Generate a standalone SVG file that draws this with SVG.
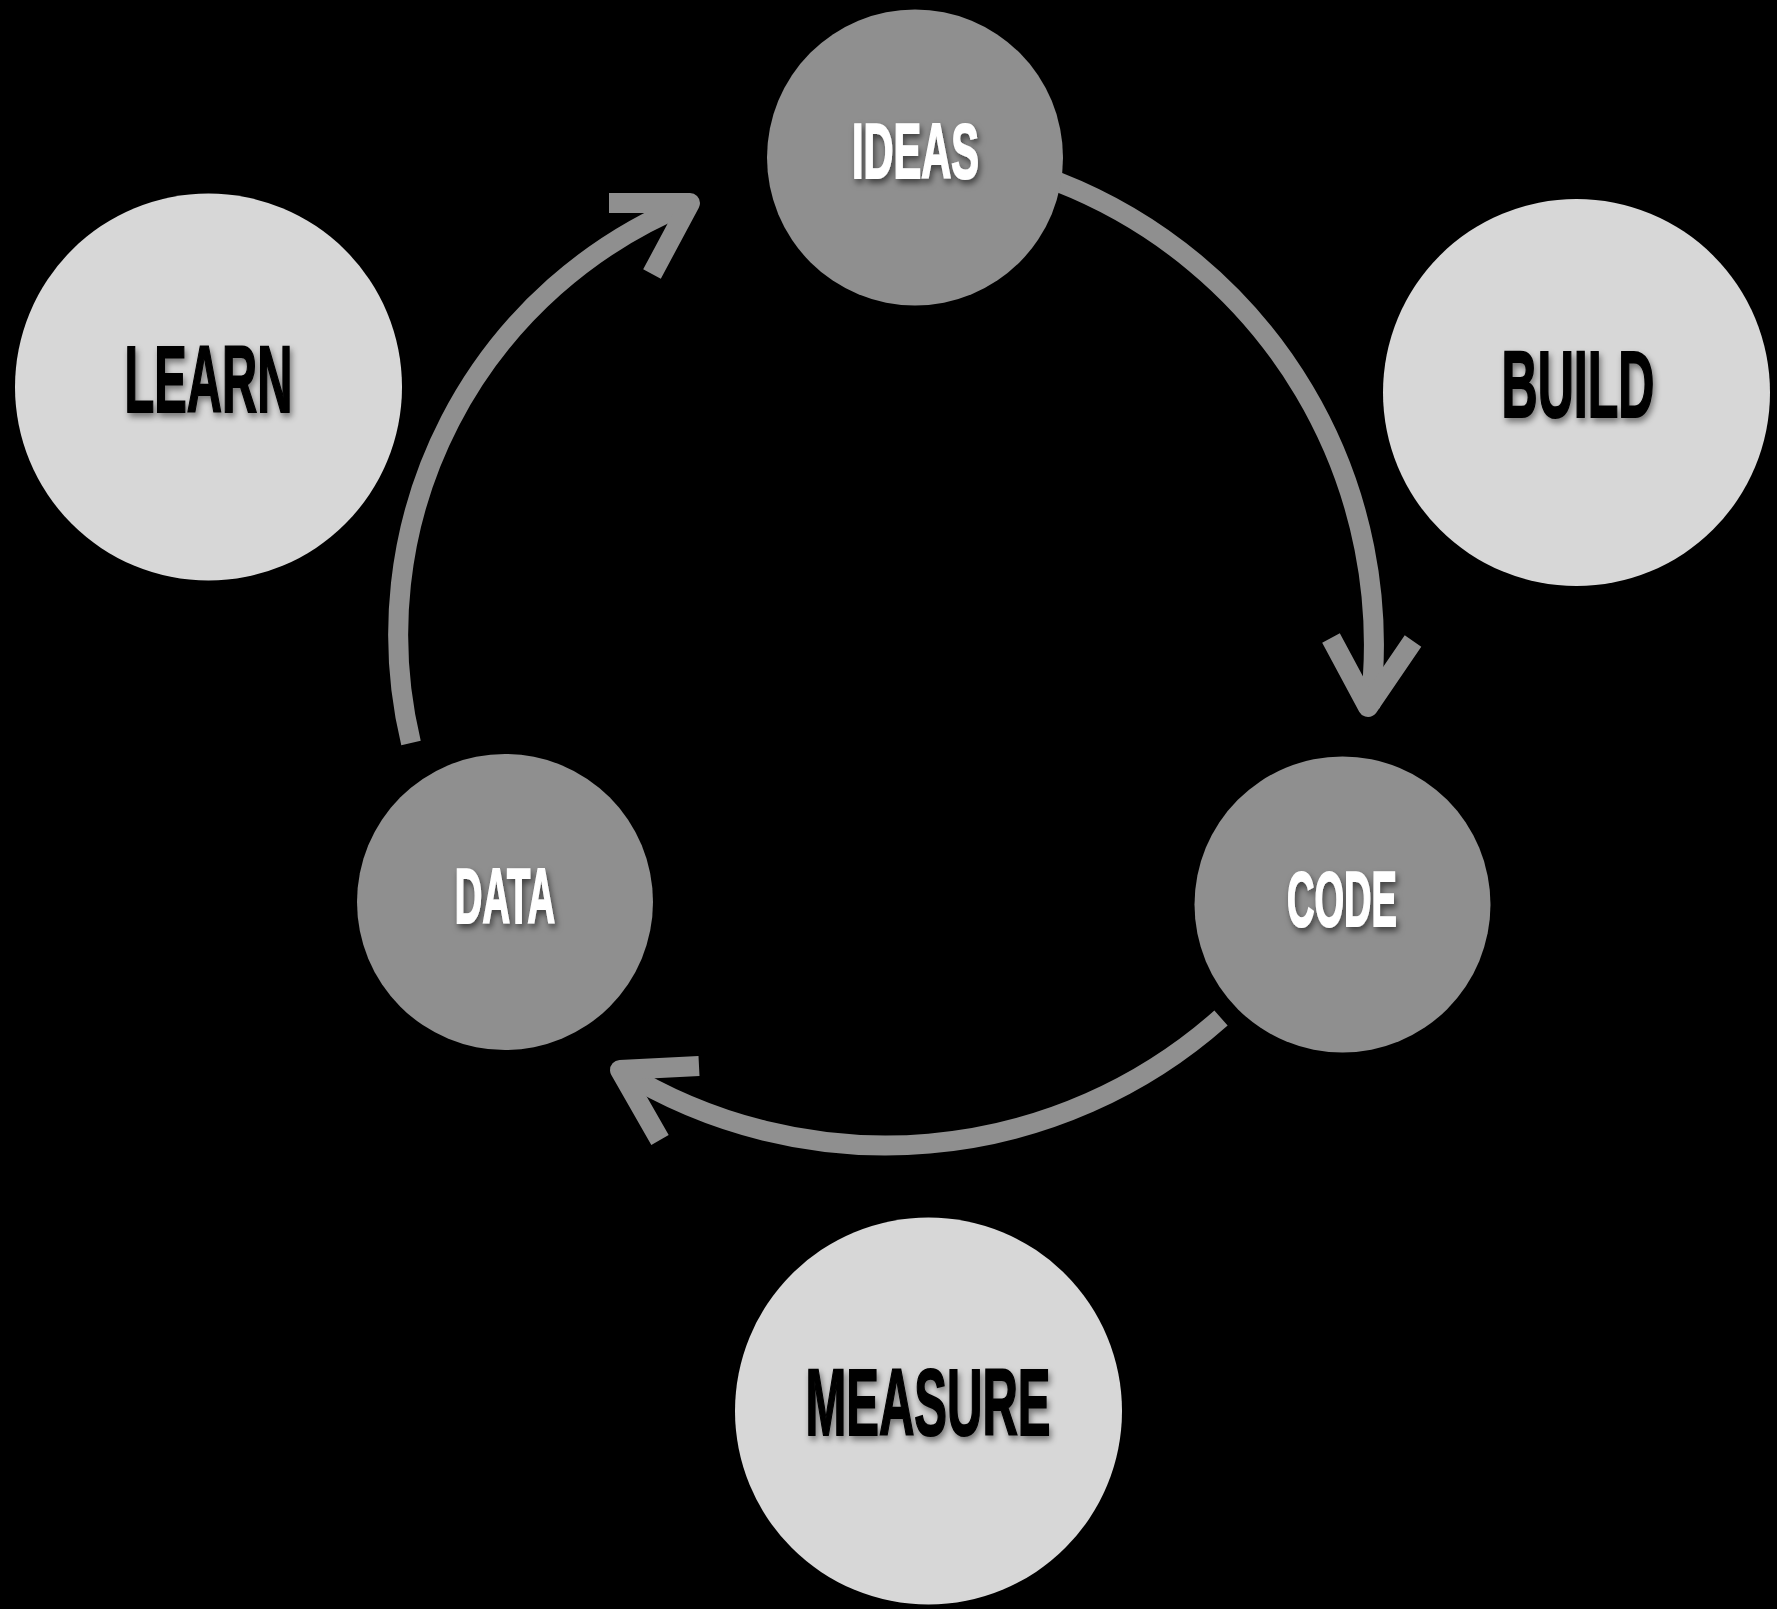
<svg xmlns="http://www.w3.org/2000/svg" width="1777" height="1609" viewBox="0 0 1777 1609">
  <style>
    .flow { fill: none; stroke: #8f8f8f; stroke-width: 20; stroke-linecap: butt; stroke-linejoin: round; }
    .stage { fill: #8f8f8f; }
    .phase { fill: #d7d7d7; }
    .label { font-family: "Liberation Sans", Arial, sans-serif; font-weight: bold; text-anchor: middle; stroke-width: 1.6; stroke-linejoin: miter; vector-effect: non-scaling-stroke; }
    .light { fill: #ffffff; stroke: #ffffff; font-size: 77px; }
    .dark { fill: #000000; stroke: #000000; font-size: 95px; }
    .on-stage { filter: url(#shadowDark); }
    .on-phase { filter: url(#shadowSoft); }
  </style>
  <defs>
    <filter id="shadowDark" x="-20%" y="-30%" width="140%" height="170%">
      <feDropShadow dx="2" dy="4" stdDeviation="3" flood-color="#000000" flood-opacity="0.55"/>
    </filter>
    <filter id="shadowSoft" x="-20%" y="-30%" width="140%" height="170%">
      <feDropShadow dx="2" dy="4" stdDeviation="3" flood-color="#000000" flood-opacity="0.45"/>
    </filter>
  </defs>

  <rect width="1777" height="1609" fill="#000000"/>

  <!-- cycle arrows -->
  <g id="connectors">
    <!-- ideas to code -->
    <path class="flow" d="M1058,182 A497,497 0 0 1 1370,707"/>
    <polyline class="flow" points="1331,638 1368,707 1413,641"/>
    <!-- code to data -->
    <path class="flow" d="M1221,1018 A505,505 0 0 1 620,1070"/>
    <polyline class="flow" points="699,1066 620,1070 660,1140"/>
    <!-- data to ideas -->
    <path class="flow" d="M411,743 A465,465 0 0 1 690,203"/>
    <polyline class="flow" points="609,203 690,203 652,274"/>
  </g>

  <!-- labels are set in a bold sans squeezed horizontally to a condensed face -->
  <g id="node-ideas">
    <circle class="stage" cx="915" cy="157.5" r="148"/>
    <g class="on-stage"><text class="label light" transform="translate(915.5,178) scale(0.54,1)">IDEAS</text></g>
  </g>
  <g id="node-code">
    <circle class="stage" cx="1342.5" cy="904.5" r="148"/>
    <g class="on-stage"><text class="label light" transform="translate(1342,926) scale(0.494,1)">CODE</text></g>
  </g>
  <g id="node-data">
    <circle class="stage" cx="505" cy="902" r="148"/>
    <g class="on-stage"><text class="label light" transform="translate(505,923) scale(0.496,1)">DATA</text></g>
  </g>
  <g id="node-learn">
    <circle class="phase" cx="208.5" cy="387" r="193.5"/>
    <g class="on-phase"><text class="label dark" transform="translate(208.5,412) scale(0.513,1)">LEARN</text></g>
  </g>
  <g id="node-build">
    <circle class="phase" cx="1576.5" cy="392.5" r="193.5"/>
    <g class="on-phase"><text class="label dark" transform="translate(1578,417) scale(0.527,1)">BUILD</text></g>
  </g>
  <g id="node-measure">
    <circle class="phase" cx="928.5" cy="1411" r="193.5"/>
    <g class="on-phase"><text class="label dark" transform="translate(928,1435) scale(0.516,1)">MEASURE</text></g>
  </g>
</svg>
